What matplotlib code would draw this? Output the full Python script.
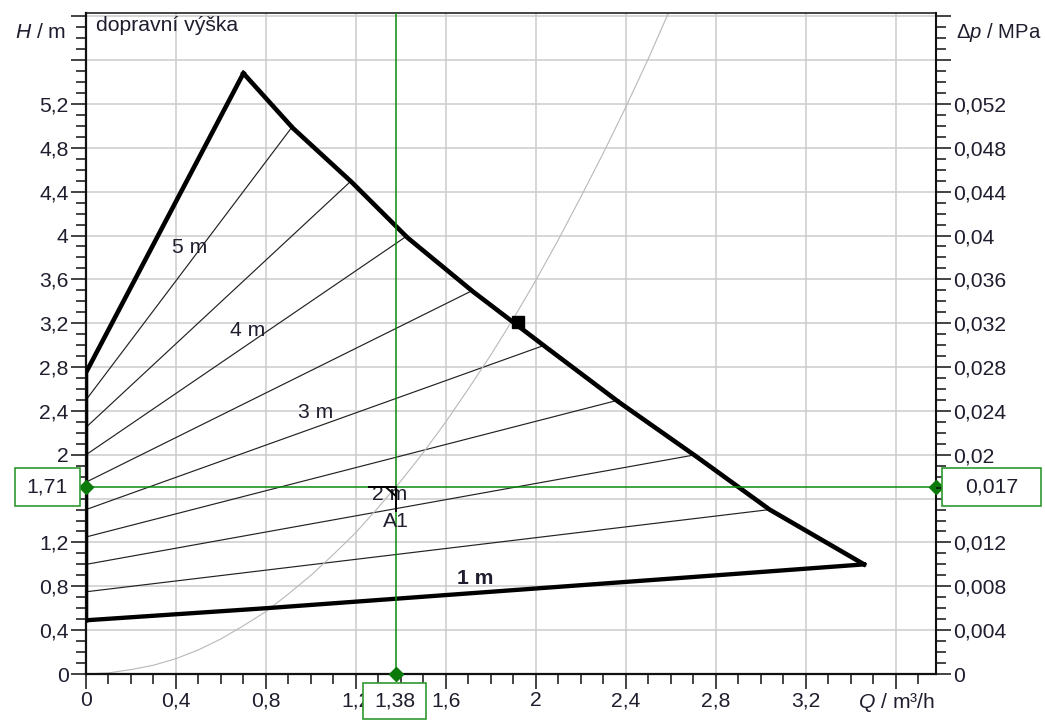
import matplotlib
matplotlib.use("Agg")
import matplotlib.pyplot as plt
import matplotlib.transforms as mtransforms
from matplotlib.patches import Rectangle
from matplotlib.lines import Line2D
from matplotlib.ticker import MultipleLocator, FuncFormatter

plt.rcParams["font.family"] = ["Liberation Sans", "DejaVu Sans"]
plt.rcParams["mathtext.fontset"] = "custom"
plt.rcParams["mathtext.rm"] = "Liberation Sans"
plt.rcParams["mathtext.it"] = "Liberation Sans:italic"

# ---- pump field data (Q in m3/h, H in m) ----
# lower boundary (minimum speed curve)
min_q = [0.0, 0.8, 1.6, 2.4, 2.8, 3.46]
min_h = [0.49, 0.60, 0.72, 0.84, 0.90, 1.00]
# left boundary, from shut-off up to the peak of the maximum curve
left_q = [0.0, 0.0, 0.70]
left_h = [0.49, 2.75, 5.48]
# maximum curve
max_q = [0.70, 0.92, 1.18, 1.43, 1.72, 2.04, 2.37, 2.71, 3.04, 3.46]
max_h = [5.48, 4.98, 4.49, 3.98, 3.49, 2.99, 2.48, 1.99, 1.50, 1.00]
# constant-pressure setting lines: start at Q = 0, end on the maximum curve
set_start_h = [0.75, 1.00, 1.25, 1.50, 1.75, 2.00, 2.25, 2.50]
set_end_q = [3.04, 2.71, 2.37, 2.04, 1.72, 1.43, 1.18, 0.92]
set_end_h = [1.50, 2.00, 2.50, 3.00, 3.50, 4.00, 4.50, 5.00]
set_labels = ["5 m", "4 m", "3 m", "2 m", "1 m"]
# system curve
sys_q = [0.0, 0.1, 0.2, 0.3, 0.4, 0.5, 0.6, 0.7, 0.8, 0.9, 1.0, 1.1, 1.2,
         1.3, 1.4, 1.5, 1.6, 1.7, 1.8, 1.9, 2.0, 2.1, 2.2, 2.3, 2.4, 2.5, 2.59]
sys_h = [0.0, 0.01, 0.04, 0.08, 0.14, 0.22, 0.32, 0.44, 0.57, 0.73, 0.90,
         1.09, 1.29, 1.52, 1.76, 2.02, 2.30, 2.60, 2.91, 3.24, 3.59, 3.96,
         4.35, 4.75, 5.17, 5.61, 6.03]
# duty point A1 and the marked point on the maximum curve
duty_q, duty_h, duty_dp = 1.38, 1.71, 0.017
mark_q, mark_h = 1.92, 3.21

x_ticks = [0.0, 0.4, 0.8, 1.2, 1.6, 2.0, 2.4, 2.8, 3.2]
y_ticks = [0.0, 0.4, 0.8, 1.2, 1.6, 2.0, 2.4, 2.8, 3.2, 3.6, 4.0, 4.4, 4.8, 5.2]
dp_ticks = [0.0, 0.004, 0.008, 0.012, 0.016, 0.02, 0.024, 0.028, 0.032,
            0.036, 0.04, 0.044, 0.048, 0.052]

XMAX, YMAX = 3.78, 6.03
PA_PER_M = 0.01  # MPa per metre of head used for the right scale

TXT = "#1e1e2e"
GREEN = "#0a8a0a"
FS = 15.2

W, H = 1045, 720
fig = plt.figure(figsize=(W / 100, H / 100), dpi=100)
ax = fig.add_axes([86 / W, (H - 674) / H, (936 - 86) / W, (674 - 13) / H])
ax.set_xlim(0, XMAX)
ax.set_ylim(0, YMAX)


def comma(v, pos=None):
    s = ("%.3f" % v).rstrip("0").rstrip(".")
    return s.replace(".", ",")


def shown(ticks, hidden=()):
    # label only the listed ticks; ticks under a value box stay blank
    def f(v, pos=None):
        if any(abs(v - t) < 1e-9 for t in hidden):
            return ""
        return comma(v) if any(abs(v - t) < 1e-9 for t in ticks) else ""
    return FuncFormatter(f)


ax.xaxis.set_major_locator(MultipleLocator(0.4))
ax.xaxis.set_minor_locator(MultipleLocator(0.1))
ax.yaxis.set_major_locator(MultipleLocator(0.4))
ax.yaxis.set_minor_locator(MultipleLocator(0.1))
ax.xaxis.set_major_formatter(shown(x_ticks))
ax.yaxis.set_major_formatter(shown(y_ticks, hidden=(1.6,)))
ax.tick_params(which="major", length=10.5, width=1.1, color="#111111",
               labelsize=FS, labelcolor=TXT, pad=2)
ax.tick_params(which="minor", length=7, width=1.1, color="#111111")
ax.grid(True, which="major", color="#cccccc", lw=1.1, zorder=0)
ax.set_axisbelow(True)
for side, lw in (("left", 1.6), ("bottom", 1.6), ("right", 1.5), ("top", 1.1)):
    ax.spines[side].set_linewidth(lw)
    ax.spines[side].set_color("#111111")

# right pressure scale
ax2 = ax.twinx()
ax2.set_ylim(0, YMAX * PA_PER_M)
ax2.yaxis.set_major_locator(MultipleLocator(0.004))
ax2.yaxis.set_minor_locator(MultipleLocator(0.001))
ax2.yaxis.set_major_formatter(shown(dp_ticks, hidden=(0.016,)))
ax2.tick_params(which="major", length=10.5, width=1.1, color="#111111",
                labelsize=FS, labelcolor=TXT, pad=2)
ax2.tick_params(which="minor", length=7, width=1.1, color="#111111")
for s in ax2.spines.values():
    s.set_visible(False)

# setting lines
for h0, q1, h1 in zip(set_start_h, set_end_q, set_end_h):
    ax.plot([0, q1], [h0, h1], color="#222222", lw=0.85, zorder=2)

# system curve
ax.plot(sys_q, sys_h, color="#b8b8b8", lw=0.8, zorder=2)

# field boundaries
ax.plot(left_q, left_h, color="black", lw=3.3, solid_joinstyle="miter", zorder=4)
ax.plot(max_q, max_h, color="black", lw=3.3, solid_joinstyle="miter", zorder=4)
ax.plot(min_q, min_h, color="black", lw=3.1, zorder=4)
ax.plot([mark_q], [mark_h], marker="s", ms=8, mfc="black", mec="black", zorder=6)

# setting line labels
label_pos = [(0.46, 3.89), (0.72, 3.13), (1.02, 2.39), (1.35, 1.64), (1.73, 0.87)]
for txt, (lq, lh) in zip(set_labels, label_pos):
    ax.text(lq, lh, txt, fontsize=FS, color=TXT, ha="center", va="center",
            fontweight="bold" if txt == "1 m" else "normal", zorder=7)

ax.text(0.045, 5.92, "dopravní výška", fontsize=FS, color=TXT,
        ha="left", va="center", zorder=7)

# duty point cross-hair
ax.axvline(duty_q, color=GREEN, lw=1.1, zorder=5)
ax.axhline(duty_h, color=GREEN, lw=1.1, zorder=5)
for q, h in ((0, duty_h), (duty_q, 0), (XMAX, duty_h)):
    ax.plot([q], [h], marker="D", ms=7.2, mfc="#0b7a0b", mec="#0b7a0b",
            clip_on=False, zorder=9)

# pointer at the duty point and its label
px, py = ax.transData.transform((duty_q, duty_h))
ident = mtransforms.IdentityTransform()
for xs, ys in (([-27, 0], [0, 0]), ([0, 0], [0, -24]), ([-10, -1], [-1, -9])):
    fig.add_artist(Line2D([px + v for v in xs], [py + v for v in ys],
                          color="black", lw=1.4, transform=ident, zorder=8))
fig.text(px, py - 35, "A1", transform=ident, fontsize=FS, color=TXT,
         ha="center", va="center")


# value boxes on the axes
def value_box(cx, cy, w, h, text):
    fig.add_artist(Rectangle((cx - w / 2, cy - h / 2), w, h, transform=ident,
                             fc="white", ec="#2f9a2f", lw=1.2, zorder=10))
    fig.text(cx, cy, text, transform=ident, fontsize=FS, color=TXT,
             ha="center", va="center", zorder=11)


x0, yd = ax.transData.transform((0, duty_h))
xr, _ = ax.transData.transform((XMAX, duty_h))
_, y0 = ax.transData.transform((duty_q, 0))
value_box(x0 - 38.5, yd, 65, 38, comma(duty_h))
value_box(xr + 55.5, yd, 99, 38, comma(duty_dp))
value_box(px - 1.5, y0 - 27, 63, 36, comma(duty_q))

# axis titles
fig.text(41 / W, 1 - 33 / H, "$H$ / m", fontsize=FS, color=TXT,
         ha="center", va="center")
fig.text(1041 / W, 1 - 33 / H, r"$\Delta p$ / MPa", fontsize=14.6, color=TXT,
         ha="right", va="center")
fig.text(896 / W, 1 - 703 / H, "$Q$ / m³/h", fontsize=FS, color=TXT,
         ha="center", va="center")

fig.savefig("out.png", dpi=100)
